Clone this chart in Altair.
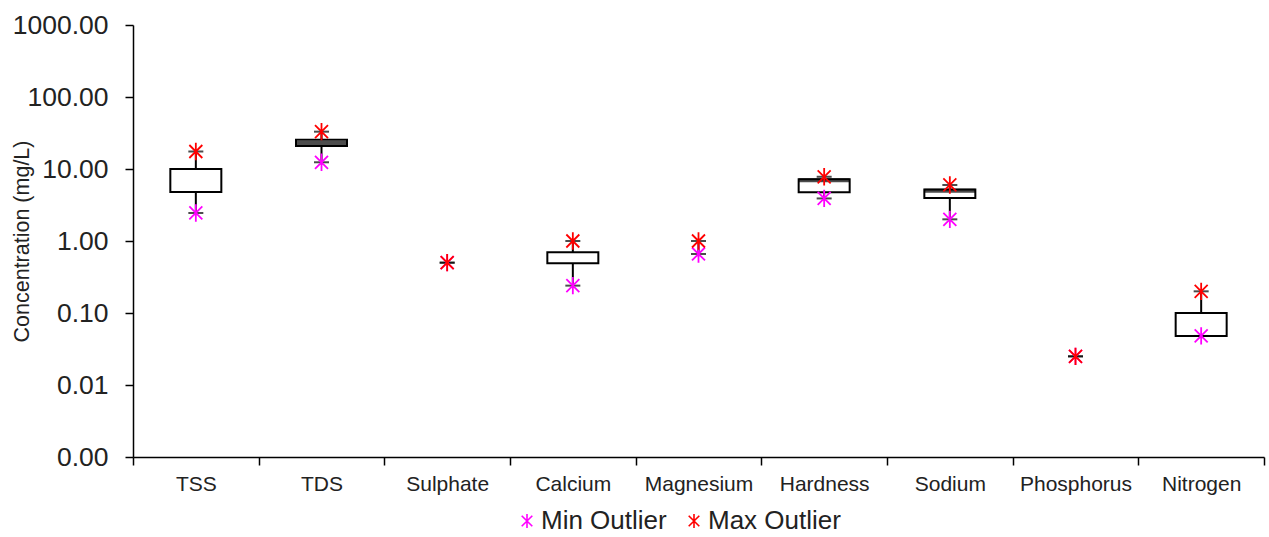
import altair as alt
import pandas as pd

categories = ["TSS", "TDS", "Sulphate", "Calcium", "Magnesium", "Hardness",
              "Sodium", "Phosphorus", "Nitrogen"]
q1 = [4.8, 20.8, None, 0.49, None, 4.75, 3.95, None, 0.048]
q3 = [10.0, 25.5, None, 0.70, None, 7.2, 5.2, None, 0.10]
median = [None, 23.0, None, None, None, 7.0, 5.0, None, None]
min_outlier = [2.45, 12.4, 0.5, 0.24, 0.66, 3.9, 2.0, 0.025, 0.048]
max_outlier = [17.5, 33.0, 0.5, 1.0, 1.0, 7.8, 6.0, 0.025, 0.2]
y_ticks = [0.001, 0.01, 0.1, 1, 10, 100, 1000]
series = ["Min Outlier", "Max Outlier"]
series_colors = ["#ff00ff", "#ff0000"]

base_df = pd.DataFrame({"cat": categories, "q1": q1, "q3": q3, "med": median,
                        "lo": min_outlier, "hi": max_outlier})
box_df = base_df.dropna(subset=["q1"])
med_df = base_df.dropna(subset=["med"])
pts_df = pd.concat([
    pd.DataFrame({"cat": categories, "v": min_outlier, "type": series[0]}),
    pd.DataFrame({"cat": categories, "v": max_outlier, "type": series[1]}),
], ignore_index=True)

STAR = "M0,-1L0,1M-0.75,-0.75L0.75,0.75M-0.75,0.75L0.75,-0.75"

xenc = alt.X("cat:N", sort=categories,
             scale=alt.Scale(paddingInner=0, paddingOuter=0),
             axis=alt.Axis(title=None, tickBand="extent", labelAngle=0,
                           labelFontSize=21, labelPadding=8, tickSize=8,
                           tickColor="black", domainColor="black",
                           domainWidth=1.5, tickWidth=1.5, labelColor="#222"))

yscale = alt.Scale(type="log", domain=[0.001, 1000])
yaxis = alt.Axis(title="Concentration (mg/L)", values=y_ticks, format=".2f",
                 labelFontSize=26.5, labelPadding=17, tickSize=8,
                 tickColor="black", domainColor="black", domainWidth=1.5,
                 tickWidth=1.5, grid=False, labelColor="#222",
                 titleFontSize=21.5, titleFontWeight="normal", titleColor="#222",
                 titleX=-111, titleY=216, titleAngle=270,
                 titleAlign="center", titleBaseline="middle")


def Y(field):
    return alt.Y(field, type="quantitative", scale=yscale, axis=yaxis)


whisker = alt.Chart(base_df).mark_rule(color="black", strokeWidth=2).encode(
    x=xenc, y=Y("lo"), y2="hi")

box = alt.Chart(box_df).mark_bar(size=51, fill="white", stroke="black",
                                 strokeWidth=2).encode(
    x=xenc, y=Y("q1"), y2="q3")

med = alt.Chart(med_df).mark_tick(size=51, thickness=4, color="black").encode(
    x=xenc, y=Y("med"))

cap_lo = alt.Chart(base_df).mark_tick(size=15, thickness=2, color="black").encode(
    x=xenc, y=Y("lo"))
cap_hi = alt.Chart(base_df).mark_tick(size=15, thickness=2, color="black").encode(
    x=xenc, y=Y("hi"))

stars = alt.Chart(pts_df).mark_point(shape=STAR, filled=False, size=300,
                                     strokeWidth=1.8, opacity=1).encode(
    x=xenc, y=Y("v"),
    color=alt.Color("type:N", sort=series,
                    scale=alt.Scale(domain=series, range=series_colors),
                    legend=alt.Legend(title=None, orient="none", direction="horizontal",
                                      legendX=381, legendY=483,
                                      labelFontSize=26, labelColor="#222",
                                      symbolType=STAR, symbolSize=200,
                                      symbolStrokeWidth=1.6, columnPadding=14,
                                      labelOffset=1, symbolFillColor="transparent")),
    order=alt.Order("type:N", sort="descending"))

chart = alt.layer(whisker, box, med, cap_lo, cap_hi, stars).properties(
    width=1131, height=432,
    autosize=alt.AutoSizeParams(type="none"),
    padding={"left": 133, "top": 25, "right": 5, "bottom": 80},
).configure(font="Liberation Sans").configure_view(stroke=None)

chart.save("out.html", embed_options={"renderer": "svg", "actions": False})
